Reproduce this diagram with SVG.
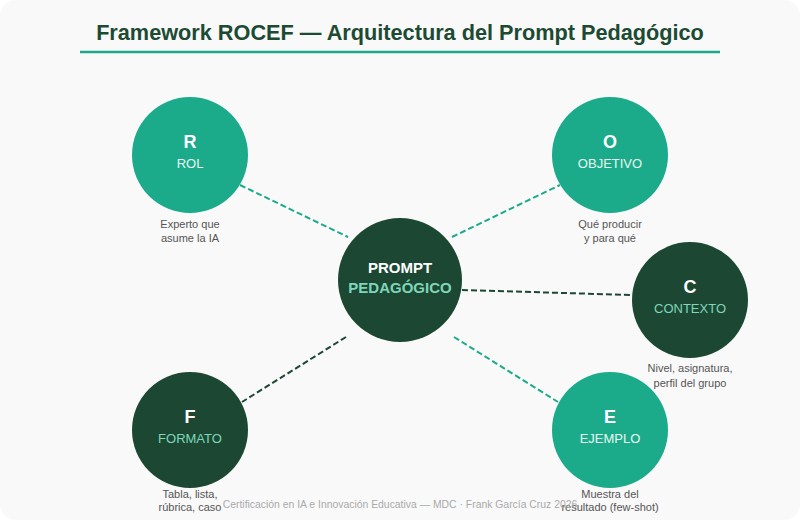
<svg xmlns="http://www.w3.org/2000/svg" width="800" height="520" viewBox="0 0 800 520">
  <style>
    text { font-family: "Liberation Sans", Arial, sans-serif; text-anchor: middle; }
    .title { font-size: 21.7px; font-weight: bold; fill: #1c4a33; }
    .teal { fill: #1bab8a; }
    .dark { fill: #1c4833; }
    .letter { font-size: 18px; font-weight: bold; fill: #ffffff; }
    .name-t { font-size: 13px; fill: #e8f7f1; }
    .name-d { font-size: 13px; fill: #7fd6b9; }
    .desc { font-size: 11px; fill: #555555; }
    .center1 { font-size: 15px; font-weight: bold; fill: #ffffff; }
    .center2 { font-size: 15px; font-weight: bold; fill: #7fd6b9; }
    .footer { font-size: 10.4px; fill: #aaaaaa; }
    .conn { fill: none; stroke-width: 2; stroke-dasharray: 6 3; }
    .conn-t { stroke: #1bab8a; }
    .conn-d { stroke: #1c4833; }
  </style>
  <rect x="0" y="0" width="800" height="520" fill="#ffffff"/>
  <rect x="0" y="0" width="800" height="520" rx="16" ry="16" fill="#f9f9f9"/>

  <text class="title" x="400" y="40">Framework ROCEF — Arquitectura del Prompt Pedagógico</text>
  <line x1="80" y1="52" x2="720" y2="52" stroke="#1bab8a" stroke-width="2.5"/>

  <g id="connectors">
    <line class="conn conn-t" x1="240" y1="185" x2="348" y2="237"/>
    <line class="conn conn-t" x1="452" y1="237" x2="560" y2="185"/>
    <line class="conn conn-d" x1="462" y1="290" x2="632" y2="295"/>
    <line class="conn conn-d" x1="346" y1="337" x2="242" y2="402"/>
    <line class="conn conn-t" x1="454" y1="337" x2="558" y2="402"/>
  </g>

  <g id="node-center">
    <circle class="dark" cx="400" cy="280" r="62"/>
    <text class="center1" x="400" y="273">PROMPT</text>
    <text class="center2" x="400" y="293">PEDAGÓGICO</text>
  </g>

  <g id="node-R">
    <circle class="teal" cx="190" cy="155" r="58"/>
    <text class="letter" x="190" y="148">R</text>
    <text class="name-t" x="190" y="168">ROL</text>
    <text class="desc" x="190" y="228">Experto que</text>
    <text class="desc" x="190" y="242">asume la IA</text>
  </g>

  <g id="node-O">
    <circle class="teal" cx="610" cy="155" r="58"/>
    <text class="letter" x="610" y="148">O</text>
    <text class="name-t" x="610" y="168">OBJETIVO</text>
    <text class="desc" x="610" y="228">Qué producir</text>
    <text class="desc" x="610" y="242">y para qué</text>
  </g>

  <g id="node-C">
    <circle class="dark" cx="690" cy="300" r="58"/>
    <text class="letter" x="690" y="293">C</text>
    <text class="name-d" x="690" y="313">CONTEXTO</text>
    <text class="desc" x="690" y="372">Nivel, asignatura,</text>
    <text class="desc" x="690" y="387">perfil del grupo</text>
  </g>

  <g id="node-F">
    <circle class="dark" cx="190" cy="430" r="58"/>
    <text class="letter" x="190" y="423">F</text>
    <text class="name-d" x="190" y="443">FORMATO</text>
    <text class="desc" x="190" y="498">Tabla, lista,</text>
    <text class="desc" x="190" y="511">rúbrica, caso</text>
  </g>

  <g id="node-E">
    <circle class="teal" cx="610" cy="430" r="58"/>
    <text class="letter" x="610" y="423">E</text>
    <text class="name-t" x="610" y="443">EJEMPLO</text>
    <text class="desc" x="610" y="498">Muestra del</text>
    <text class="desc" x="610" y="511">resultado (few-shot)</text>
  </g>

  <text class="footer" x="400" y="508">Certificación en IA e Innovación Educativa — MDC · Frank García Cruz 2026</text>
</svg>
